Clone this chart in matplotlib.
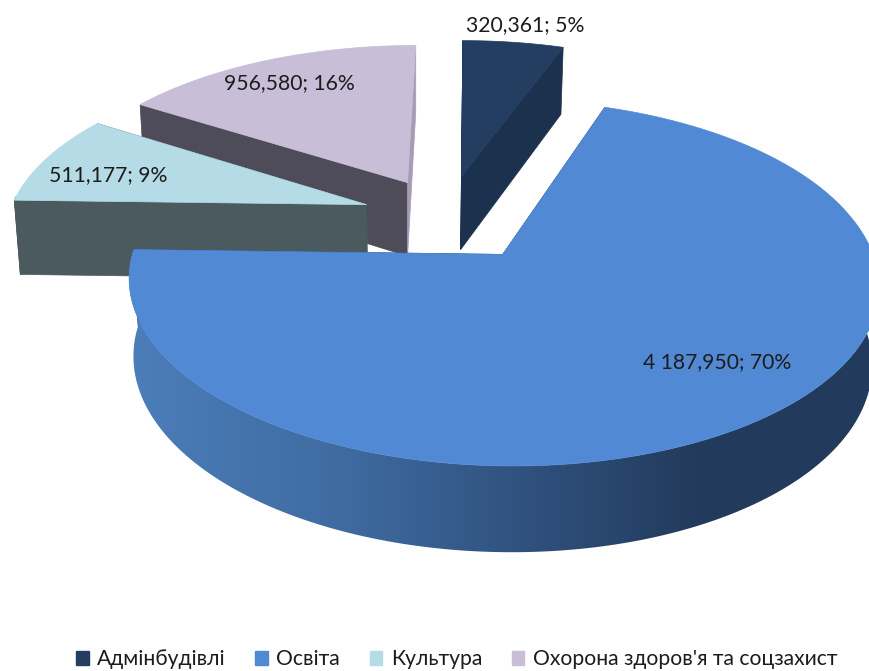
import numpy as np
import matplotlib
matplotlib.use("Agg")
import matplotlib.pyplot as plt
from matplotlib.patches import Polygon, Patch
from matplotlib.colors import to_rgb

plt.rcParams['font.family'] = ['Lato', 'Noto Sans', 'DejaVu Sans']

# data
categories = ["Адмінбудівлі", "Освіта", "Культура", "Охорона здоров'я та соцзахист"]
values = [320.361, 4187.950, 511.177, 956.580]

# styles
top_colors = ["#233e60", "#5289d4", "#b4dbe6", "#c8bed8"]
wall_colors = ["#1c314e", "#223a5c", "#4a5a5f", "#4f4c59"]
end_colors = ["#1c314e", "#223a5c", "#4a5a5f", "#a79bb8"]
explode = [0.25, 0.27, 0.235, 0.235]
label_pos = [(525, 25), (717, 362), (108, 175), (289, 83)]
draw_order = [3, 0, 2, 1]

# projection of the 3d pie, in picture pixels
cx, cy = 446, 216
a, b = 358, 167
k = 0.15
skew = 4
depth = 75
shrink = 0.985


def project(X, Y, low=False):
    w = 1 + k * Y
    sx = (a * X + skew * max(Y, 0)) / w
    sy = cy - b * Y / w
    if low:
        return cx + (sx + 30) * shrink - 30, sy + depth / w ** 0.69
    return cx + sx, sy


def money(v):
    return "{:,.3f}".format(v).replace(",", " ").replace(".", ",")


def wall_shade(x):
    # outer wall of the big slice gets darker to the right
    xs = [130, 350, 520, 690, 880]
    cols = ["#4c7eba", "#3e6a9f", "#30527f", "#233b5d", "#223a5c"]
    rgb = np.array([to_rgb(c) for c in cols])
    return np.stack([np.interp(x, xs, rgb[:, i]) for i in range(3)], axis=-1)


fig = plt.figure(figsize=(8.7, 6.71), dpi=100)
ax = fig.add_axes([0, 0, 1, 1])
ax.axis("off")

total = sum(values)
edges = np.concatenate([[0], np.cumsum(values)]) / total * 360

for n, i in enumerate(draw_order):
    start, end = edges[i], edges[i + 1]
    mid = np.radians((start + end) / 2)
    ox = explode[i] * np.sin(mid)
    oy = explode[i] * np.cos(mid)

    phi = np.radians(np.linspace(start, end, 300))
    X = ox + np.sin(phi)
    Y = oy + np.cos(phi)

    # flat cut faces
    for j in [0, -1]:
        p1 = project(ox, oy)
        p2 = project(X[j], Y[j])
        p3 = project(X[j], Y[j], low=True)
        p4 = project(ox, oy, low=True)
        col = end_colors[i] if j == -1 else wall_colors[i]
        ax.add_patch(Polygon([p1, p2, p3, p4], fc=col, ec=col, lw=0.5, zorder=n * 3 + 1))

    # outer wall, only the part turned to the viewer
    front = np.cos(phi) < 0.05
    if front.any():
        upper = [project(x, y) for x, y in zip(X[front], Y[front])]
        lower = [project(x, y, low=True) for x, y in zip(X[front], Y[front])]
        outline = upper + lower[::-1]
        if i == 1:
            wall = Polygon(outline, fc="none", ec="none", zorder=n * 3 + 2)
            ax.add_patch(wall)
            xs = np.arange(100, 900)
            img = ax.imshow(wall_shade(xs)[np.newaxis, :, :], extent=(100, 900, 600, 200),
                            aspect="auto", zorder=n * 3 + 2)
            img.set_clip_path(wall)
        else:
            ax.add_patch(Polygon(outline, fc=wall_colors[i], ec=wall_colors[i], lw=0.5,
                                 zorder=n * 3 + 2))

    # top face
    pts = [project(ox, oy)] + [project(x, y) for x, y in zip(X, Y)]
    ax.add_patch(Polygon(pts, fc=top_colors[i], ec=top_colors[i], lw=0.5, zorder=n * 3 + 3))

ax.set_xlim(0, 870)
ax.set_ylim(671, 0)

for i in range(len(values)):
    pct = values[i] / total * 100
    ax.text(label_pos[i][0], label_pos[i][1], "{}; {:.0f}%".format(money(values[i]), pct),
            ha="center", va="center", fontsize=15.2, color="#1c1c1c", zorder=30)

handles = [Patch(fc=c, ec=c) for c in top_colors]
fig.legend(handles, categories, loc="lower center", bbox_to_anchor=(0.525, -0.026), ncol=4,
           frameon=False, fontsize=15.2, handlelength=0.6, handleheight=0.6,
           handletextpad=0.4, columnspacing=1.4, labelcolor="#1c1c1c")

fig.savefig("out.png", dpi=100)
